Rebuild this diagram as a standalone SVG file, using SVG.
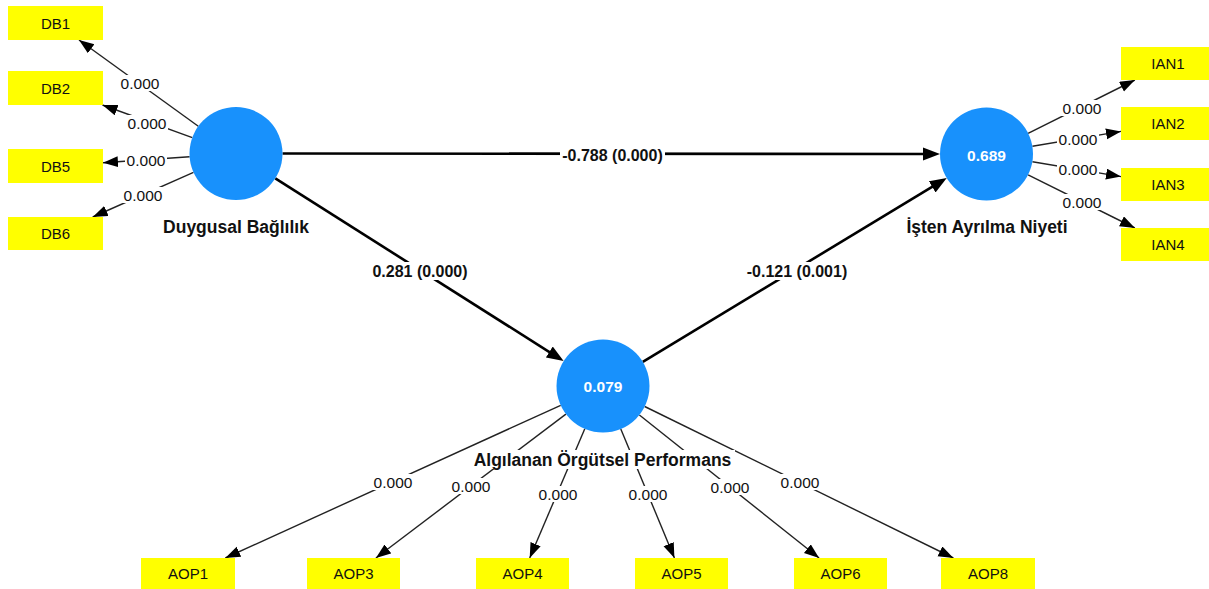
<svg xmlns="http://www.w3.org/2000/svg" width="1209" height="589" viewBox="0 0 1209 589">
  <style>
    .ind { stroke: #222; stroke-width: 1.4; fill: none; marker-end: url(#arrS); }
    .path { stroke: #000; stroke-width: 2.6; fill: none; marker-end: url(#arrL); }
    .lv { fill: #1891fc; }
    .mv { fill: #ffff00; }
    .bg { fill: #fff; }
    .w { font-family: "Liberation Sans", Arial, sans-serif; font-size: 15.5px; fill: #111; text-anchor: middle; }
    .coef { font-family: "Liberation Sans", Arial, sans-serif; font-size: 16px; font-weight: bold; fill: #111; text-anchor: middle; }
    .name { font-family: "Liberation Sans", Arial, sans-serif; font-size: 17.5px; font-weight: bold; fill: #111; text-anchor: middle; }
    .r2 { font-family: "Liberation Sans", Arial, sans-serif; font-size: 15.5px; font-weight: bold; fill: #fff; text-anchor: middle; }
    .mvt { font-family: "Liberation Sans", Arial, sans-serif; font-size: 15px; fill: #111; text-anchor: middle; }
  </style>
  <defs>
    <marker id="arrS" markerUnits="userSpaceOnUse" markerWidth="16" markerHeight="12" refX="15" refY="5.5" orient="auto">
      <path d="M0,0 L15,5.5 L0,11 z" fill="#000"/>
    </marker>
    <marker id="arrL" markerUnits="userSpaceOnUse" markerWidth="18" markerHeight="14" refX="9" refY="6.5" orient="auto">
      <path d="M0,0 L17,6.5 L0,13 z" fill="#000"/>
    </marker>
  </defs>
  <rect width="1209" height="589" fill="#fff"/>

  <g id="connectors">
    <!-- outer loadings: Duygusal Bağlılık -->
    <line class="ind" x1="198.3" y1="126.3" x2="79" y2="40"/>
    <line class="ind" x1="192.3" y1="137.6" x2="102.5" y2="105"/>
    <line class="ind" x1="189.6" y1="156.7" x2="103" y2="162.7"/>
    <line class="ind" x1="193.5" y1="172.3" x2="92.7" y2="217"/>
    <!-- outer loadings: İşten Ayrılma Niyeti -->
    <line class="ind" x1="1028.1" y1="133.3" x2="1134.9" y2="80"/>
    <line class="ind" x1="1032.4" y1="146.3" x2="1121" y2="131.4"/>
    <line class="ind" x1="1032.4" y1="161.7" x2="1121" y2="176.6"/>
    <line class="ind" x1="1028.1" y1="174.8" x2="1134.9" y2="228"/>
    <!-- outer loadings: Algılanan Örgütsel Performans -->
    <line class="ind" x1="560.7" y1="405.3" x2="225.3" y2="558"/>
    <line class="ind" x1="565.9" y1="414.1" x2="375.9" y2="558"/>
    <line class="ind" x1="584.8" y1="428.8" x2="529.7" y2="558"/>
    <line class="ind" x1="620.8" y1="428.9" x2="674.4" y2="558"/>
    <line class="ind" x1="639.4" y1="415" x2="819.1" y2="558"/>
    <line class="ind" x1="644.7" y1="406.5" x2="953.4" y2="558"/>
    <!-- structural paths -->
    <line class="path" x1="282.5" y1="153.5" x2="932" y2="154"/>
    <line class="path" x1="275.3" y1="178.4" x2="556.9" y2="356.8"/>
    <line class="path" x1="642.8" y1="361.9" x2="939.9" y2="182.2"/>

    <!-- labels -->
    <rect class="bg" x="119" y="75" width="42" height="16"/>
    <text class="w" x="140" y="88.5">0.000</text>
    <rect class="bg" x="126" y="115" width="42" height="16"/>
    <text class="w" x="147" y="128.5">0.000</text>
    <rect class="bg" x="125" y="152" width="42" height="16"/>
    <text class="w" x="146" y="165.5">0.000</text>
    <rect class="bg" x="122" y="187" width="42" height="16"/>
    <text class="w" x="143" y="200.5">0.000</text>

    <rect class="bg" x="1061" y="100" width="42" height="16"/>
    <text class="w" x="1082" y="113.5">0.000</text>
    <rect class="bg" x="1057" y="131" width="42" height="16"/>
    <text class="w" x="1078" y="144.5">0.000</text>
    <rect class="bg" x="1057" y="161" width="42" height="16"/>
    <text class="w" x="1078" y="174.5">0.000</text>
    <rect class="bg" x="1061" y="194" width="42" height="16"/>
    <text class="w" x="1082" y="207.5">0.000</text>

    <rect class="bg" x="372" y="474" width="42" height="16"/>
    <text class="w" x="393" y="487.5">0.000</text>
    <rect class="bg" x="450" y="478" width="42" height="16"/>
    <text class="w" x="471" y="491.5">0.000</text>
    <rect class="bg" x="537" y="486" width="42" height="16"/>
    <text class="w" x="558" y="499.5">0.000</text>
    <rect class="bg" x="627" y="486" width="42" height="16"/>
    <text class="w" x="648" y="499.5">0.000</text>
    <rect class="bg" x="709" y="479" width="42" height="16"/>
    <text class="w" x="730" y="492.5">0.000</text>
    <rect class="bg" x="779" y="474" width="42" height="16"/>
    <text class="w" x="800" y="487.5">0.000</text>

    <rect class="bg" x="560" y="145" width="105" height="18"/>
    <text class="coef" x="612.5" y="160.5">-0.788 (0.000)</text>
    <rect class="bg" x="369" y="262" width="102" height="18"/>
    <text class="coef" x="420" y="277">0.281 (0.000)</text>
    <rect class="bg" x="744" y="262" width="106" height="18"/>
    <text class="coef" x="797" y="277">-0.121 (0.001)</text>
  </g>

  <g id="node-duygusal-baglilik">
    <circle class="lv" cx="236" cy="153.5" r="46.5"/>
    <text class="name" x="236" y="233">Duygusal Bağlılık</text>
  </g>
  <g id="node-isten-ayrilma-niyeti">
    <circle class="lv" cx="986.5" cy="154" r="46.5"/>
    <text class="r2" x="986.5" y="160.5">0.689</text>
    <text class="name" x="987" y="233">İşten Ayrılma Niyeti</text>
  </g>
  <g id="node-algilanan-orgutsel-performans">
    <circle class="lv" cx="603" cy="386" r="46.5"/>
    <text class="r2" x="603" y="391.5">0.079</text>
    <rect class="bg" x="471" y="450" width="264" height="19"/>
    <text class="name" x="602.5" y="465.5">Algılanan Örgütsel Performans</text>
  </g>

  <g id="node-DB1"><rect class="mv" x="8" y="6" width="95" height="34"/><text class="mvt" x="55.5" y="28.5">DB1</text></g>
  <g id="node-DB2"><rect class="mv" x="8" y="71" width="95" height="34"/><text class="mvt" x="55.5" y="93.5">DB2</text></g>
  <g id="node-DB5"><rect class="mv" x="8" y="149" width="95" height="34"/><text class="mvt" x="55.5" y="171.5">DB5</text></g>
  <g id="node-DB6"><rect class="mv" x="8" y="217" width="95" height="33"/><text class="mvt" x="55.5" y="239">DB6</text></g>

  <g id="node-IAN1"><rect class="mv" x="1121" y="47" width="94" height="33"/><text class="mvt" x="1168" y="69">IAN1</text></g>
  <g id="node-IAN2"><rect class="mv" x="1121" y="107" width="94" height="33"/><text class="mvt" x="1168" y="129">IAN2</text></g>
  <g id="node-IAN3"><rect class="mv" x="1121" y="168" width="94" height="33"/><text class="mvt" x="1168" y="190">IAN3</text></g>
  <g id="node-IAN4"><rect class="mv" x="1121" y="228" width="94" height="33"/><text class="mvt" x="1168" y="250">IAN4</text></g>

  <g id="node-AOP1"><rect class="mv" x="141" y="558" width="94" height="34"/><text class="mvt" x="188" y="579">AOP1</text></g>
  <g id="node-AOP3"><rect class="mv" x="307" y="558" width="93" height="34"/><text class="mvt" x="353.5" y="579">AOP3</text></g>
  <g id="node-AOP4"><rect class="mv" x="476" y="558" width="93" height="34"/><text class="mvt" x="522.5" y="579">AOP4</text></g>
  <g id="node-AOP5"><rect class="mv" x="635" y="558" width="93" height="34"/><text class="mvt" x="681.5" y="579">AOP5</text></g>
  <g id="node-AOP6"><rect class="mv" x="794" y="558" width="93" height="34"/><text class="mvt" x="840.5" y="579">AOP6</text></g>
  <g id="node-AOP8"><rect class="mv" x="941" y="558" width="94" height="34"/><text class="mvt" x="988" y="579">AOP8</text></g>
</svg>
